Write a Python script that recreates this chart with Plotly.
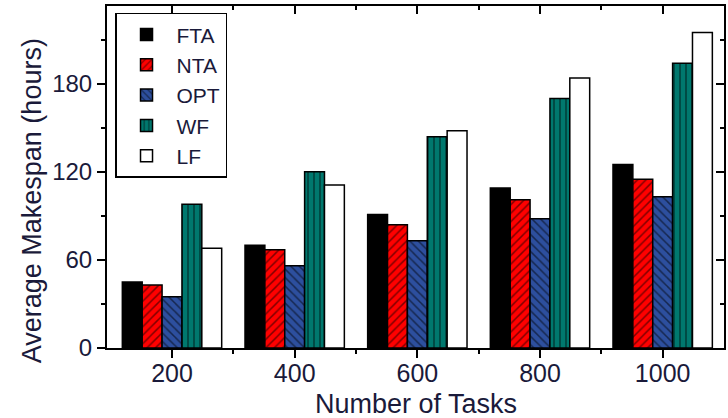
import plotly.graph_objects as go

categories = ["200", "400", "600", "800", "1000"]
series_names = ["FTA", "NTA", "OPT", "WF", "LF"]
fta = [45, 70, 91, 109, 125]
nta = [43, 67, 84, 101, 115]
opt = [35, 56, 73, 88, 103]
wf = [98, 120, 144, 170, 194]
lf = [68, 111, 148, 184, 215]
y_ticks = [0, 60, 120, 180]

values = [fta, nta, opt, wf, lf]
colors = ["#000000", "#ff0000", "#2d4f9e", "#00786e", "#ffffff"]
shapes = ["", "/", "\\", "|", ""]

xpos = list(range(len(categories)))

fig = go.Figure()
for name, vals, col, shp in zip(series_names, values, colors, shapes):
    marker = dict(color=col, line=dict(color="black", width=1.5))
    if shp:
        marker["pattern"] = dict(shape=shp, fgcolor="black", bgcolor=col,
                                 size=6, solidity=0.25, fillmode="overlay")
    fig.add_trace(go.Bar(x=xpos, y=vals, name=name, marker=marker))

fig.add_trace(go.Scatter(x=[], y=[], xaxis="x2", yaxis="y2", showlegend=False,
                         hoverinfo="skip"))

font_family = "Liberation Sans, Arial, sans-serif"
text_color = "#1a1a3a"
minor_x = [i + 0.5 for i in range(len(categories) - 1)]

axis_common = dict(showline=True, linecolor="black", linewidth=2,
                   showgrid=False, zeroline=False, tickcolor="black",
                   tickwidth=1.5)

fig.update_layout(
    width=728, height=418,
    margin=dict(l=107, r=4, t=6, b=70),
    paper_bgcolor="white", plot_bgcolor="white",
    barmode="group", bargap=0.19, bargroupgap=0,
    font=dict(family=font_family, color=text_color),
    showlegend=True,
    legend=dict(x=0.013, y=0.98, xanchor="left", yanchor="top",
                bordercolor="black", borderwidth=1.5, bgcolor="white",
                font=dict(size=21, family=font_family, color=text_color),
                tracegroupgap=0, itemwidth=50),
    xaxis=dict(range=[-0.53, 4.5], tickmode="array", tickvals=xpos,
               ticktext=categories, ticks="outside", ticklen=8,
               tickfont=dict(size=25), ticklabelstandoff=-6,
               minor=dict(tickvals=minor_x, ticks="outside", ticklen=4,
                          tickcolor="black", tickwidth=1.5),
               **axis_common),
    yaxis=dict(range=[0, 233], tickmode="array", tickvals=y_ticks,
               ticks="outside", ticklen=8, tickfont=dict(size=24),
               minor=dict(dtick=30, tick0=0, ticks="outside", ticklen=4,
                          tickcolor="black", tickwidth=1.5),
               **axis_common),
    xaxis2=dict(overlaying="x", matches="x", side="top", anchor="y2",
                tickmode="array", tickvals=xpos, showticklabels=False,
                ticks="inside", ticklen=8,
                minor=dict(tickvals=minor_x, ticks="inside", ticklen=4,
                           tickcolor="black", tickwidth=1.5),
                **axis_common),
    yaxis2=dict(overlaying="y", matches="y", side="right", anchor="x2",
                tickmode="array", tickvals=y_ticks, showticklabels=False,
                ticks="inside", ticklen=8,
                minor=dict(dtick=30, tick0=0, ticks="inside", ticklen=4,
                           tickcolor="black", tickwidth=1.5),
                **axis_common),
    annotations=[
        dict(text="Average Makespan (hours)", textangle=-90,
             xref="paper", yref="paper", x=-0.121, y=0.43,
             xanchor="center", yanchor="middle", showarrow=False,
             font=dict(size=27, family=font_family, color=text_color)),
        dict(text="Number of Tasks",
             xref="paper", yref="paper", x=0.5, y=-0.114,
             xanchor="center", yanchor="top", showarrow=False,
             font=dict(size=27, family=font_family, color=text_color)),
    ],
)

fig.write_html("out.html")
